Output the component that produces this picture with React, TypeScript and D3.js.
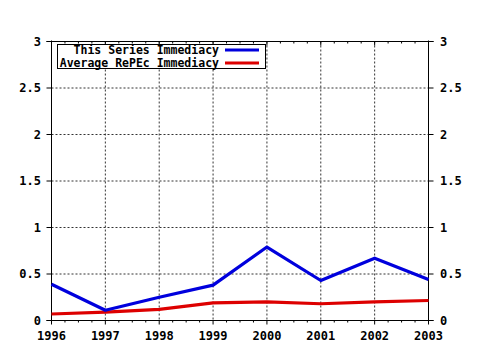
import * as d3 from 'd3';
import { useEffect, useRef } from 'react';

// years on the x axis
const years = [1996, 1997, 1998, 1999, 2000, 2001, 2002, 2003];
// values
const seriesImmediacy = [0.39, 0.11, 0.25, 0.38, 0.79, 0.43, 0.67, 0.44];
const repecImmediacy = [0.07, 0.09, 0.12, 0.19, 0.2, 0.18, 0.2, 0.215];
const yTicks = [0, 0.5, 1, 1.5, 2, 2.5, 3];
const legendLabels = ['This Series Immediacy', 'Average RePEc Immediacy'];
const lineColors = ['#0000dd', '#dd0000'];

const W = 480;
const H = 350;
const FONT = '"DejaVu Sans Mono", "Liberation Mono", monospace';

const App = () => {
  const svgRef = useRef<SVGSVGElement>(null);

  useEffect(() => {
    const svg = d3.select(svgRef.current);
    svg.selectAll('*').remove();

    const x = d3.scaleLinear().domain([1996, 2003]).range([51.5, 428.5]);
    const y = d3.scaleLinear().domain([0, 3]).range([320.5, 41.5]);

    // dotted grid
    const grid = svg.append('g')
      .attr('stroke', '#333')
      .attr('stroke-width', 1)
      .attr('stroke-dasharray', '2,2');
    grid.selectAll('line.v')
      .data(years.slice(1, -1))
      .enter()
      .append('line')
      .attr('x1', d => x(d)).attr('x2', d => x(d))
      .attr('y1', y(3)).attr('y2', y(0));
    grid.selectAll('line.h')
      .data(yTicks.slice(1, -1))
      .enter()
      .append('line')
      .attr('x1', x(1996)).attr('x2', x(2003))
      .attr('y1', d => y(d)).attr('y2', d => y(d));

    // frame
    const frame = svg.append('g').attr('stroke', '#000').attr('stroke-width', 1);
    frame.append('line').attr('x1', x(1996)).attr('x2', x(1996)).attr('y1', y(3) - 1).attr('y2', y(0));
    frame.append('line').attr('x1', x(2003)).attr('x2', x(2003)).attr('y1', y(3) - 1).attr('y2', y(0));
    frame.append('line').attr('x1', x(1996) - 5).attr('x2', x(2003) + 5).attr('y1', y(3)).attr('y2', y(3));
    frame.append('line').attr('x1', x(1996) - 5).attr('x2', x(2003) + 5).attr('y1', y(0)).attr('y2', y(0));

    // y ticks both sides
    yTicks.forEach(t => {
      frame.append('line').attr('x1', x(1996) - 5).attr('x2', x(1996)).attr('y1', y(t)).attr('y2', y(t));
      frame.append('line').attr('x1', x(2003)).attr('x2', x(2003) + 5).attr('y1', y(t)).attr('y2', y(t));
    });

    // x ticks, major and minor
    const minor = d3.range(0, 29).map(i => 1996 + i / 4);
    minor.forEach(m => {
      const major = Number.isInteger(m);
      frame.append('line')
        .attr('x1', x(m)).attr('x2', x(m))
        .attr('y1', y(0)).attr('y2', y(0) + (major ? 4 : 2));
      frame.append('line')
        .attr('x1', x(m)).attr('x2', x(m))
        .attr('y1', y(3)).attr('y2', y(3) + (major ? 4 : 2));
    });

    // y labels
    svg.append('g')
      .selectAll('text')
      .data(yTicks)
      .enter()
      .append('text')
      .attr('x', 41)
      .attr('y', d => y(d))
      .attr('dy', '0.35em')
      .attr('text-anchor', 'end')
      .text(d => String(d));
    svg.append('g')
      .selectAll('text')
      .data(yTicks)
      .enter()
      .append('text')
      .attr('x', 440)
      .attr('y', d => y(d))
      .attr('dy', '0.35em')
      .text(d => String(d));

    // x labels
    svg.append('g')
      .selectAll('text')
      .data(years)
      .enter()
      .append('text')
      .attr('x', d => x(d))
      .attr('y', 340)
      .attr('text-anchor', 'middle')
      .text(d => d);

    svg.selectAll('text')
      .attr('font-family', FONT)
      .attr('font-weight', 'bold')
      .attr('font-size', 12)
      .attr('fill', '#000');

    // series lines
    const line = d3.line<number>()
      .x((_, i) => x(years[i]))
      .y(d => y(d));
    [repecImmediacy, seriesImmediacy].forEach((vals, k) => {
      svg.append('path')
        .datum(vals)
        .attr('d', line)
        .attr('fill', 'none')
        .attr('stroke', lineColors[1 - k])
        .attr('stroke-width', 3.2)
        .attr('stroke-linejoin', 'round');
    });

    // legend
    const lg = svg.append('g');
    lg.append('rect')
      .attr('x', 57.5).attr('y', 44.5)
      .attr('width', 208).attr('height', 24)
      .attr('fill', '#fff').attr('stroke', '#000');
    legendLabels.forEach((lab, i) => {
      const yy = 50 + i * 13;
      lg.append('text')
        .attr('x', 219)
        .attr('y', yy)
        .attr('dy', '0.35em')
        .attr('text-anchor', 'end')
        .attr('font-family', FONT)
        .attr('font-weight', 'bold')
        .attr('font-size', 11.5)
        .text(lab);
      lg.append('line')
        .attr('x1', 225).attr('x2', 259)
        .attr('y1', yy).attr('y2', yy)
        .attr('stroke', lineColors[i])
        .attr('stroke-width', 3);
    });
  }, []);

  return (
    <svg ref={svgRef} width={W} height={H} style={{ position: 'absolute', left: 0, top: 0, background: '#fff' }} />
  );
};

export default App;
